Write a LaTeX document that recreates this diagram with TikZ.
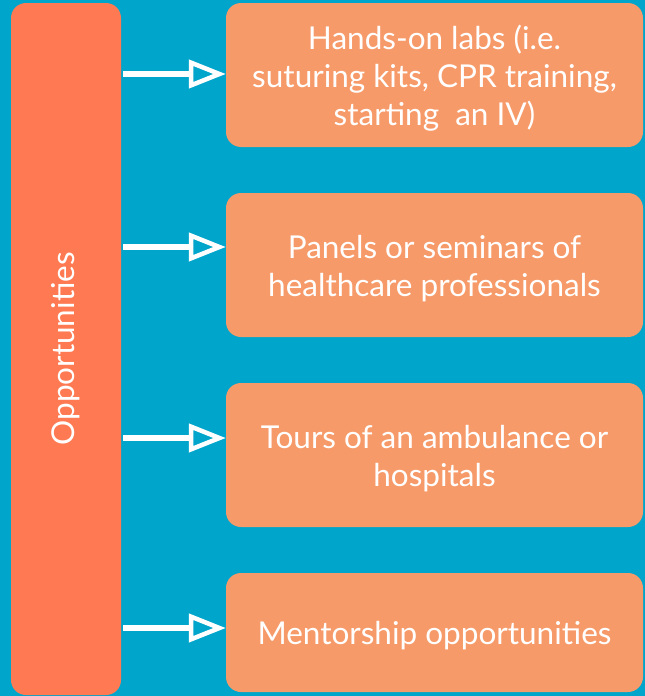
\documentclass[tikz,border=0pt]{standalone}
\usepackage{fontspec}
\setmainfont{Lato}
\usetikzlibrary{arrows.meta}
\definecolor{bgblue}{RGB}{0,165,204}
\definecolor{barorange}{RGB}{255,122,82}
\definecolor{boxorange}{RGB}{247,154,105}
\begin{document}
\begin{tikzpicture}[
    x=1pt, y=-1pt,
    item/.style = {fill=boxorange, rounded corners=15pt, minimum width=417pt, minimum height=#1, inner sep=0pt},
    item/.default=144pt,
    itemtext/.style = {text=white, align=center, inner sep=0pt, font=\fontsize{31.5}{38}\selectfont},
    link/.style = {draw=white, line width=6pt, -{Triangle[open, length=37pt, width=28pt, line width=4.5pt]}}
  ]

  \fill[bgblue] (0,0) rectangle (645,696);

  \node[fill=barorange, rounded corners=15pt, minimum width=110pt, minimum height=692pt, inner sep=0pt] (bar) at (66,349) {};
  \node[itemtext, rotate=90] (bartitle) at (bar) {Opportunities};

  \node[item] (labs) at (434.5,75) {};
  \node[item] (panels) at (434.5,265) {};
  \node[item] (tours) at (434.5,455) {};
  \node[item=119pt] (mentor) at (434.5,632.5) {};

  \node[itemtext] (labstext) at ([yshift=-3.5pt]labs) {Hands-on labs (i.e.\\ suturing kits, CPR training,\\ starting~ an IV)};
  \node[itemtext] (panelstext) at ([yshift=-3.5pt]panels) {Panels or seminars of\\ healthcare professionals};
  \node[itemtext] (tourstext) at ([yshift=-3.5pt]tours) {Tours of an ambulance or\\ hospitals};
  \node[itemtext] (mentortext) at ([yshift=-3pt]mentor) {Mentorship opportunities};

  \coordinate (y1) at (0,74);
  \coordinate (y2) at (0,247);
  \coordinate (y3) at (0,438);
  \coordinate (y4) at (0,628);

  \draw[link] ([xshift=2pt]bar.east |- y1) -- (labs.west |- y1);
  \draw[link] ([xshift=2pt]bar.east |- y2) -- (panels.west |- y2);
  \draw[link] ([xshift=2pt]bar.east |- y3) -- (tours.west |- y3);
  \draw[link] ([xshift=2pt]bar.east |- y4) -- (mentor.west |- y4);

\end{tikzpicture}
\end{document}
